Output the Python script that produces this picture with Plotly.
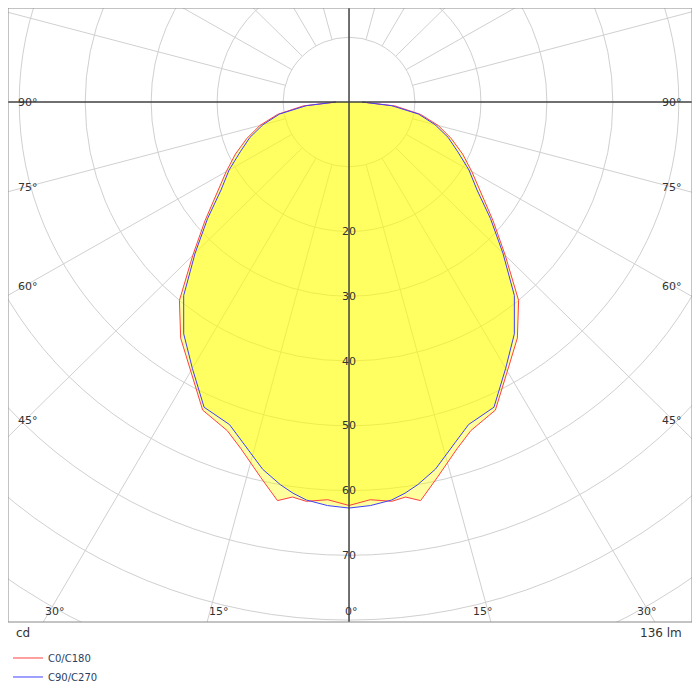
import numpy as np
import plotly.graph_objects as go

# intensity (cd) vs gamma angle, 0 = straight down, 90 = horizontal
angles = [0, 3, 6, 8, 10, 13, 17, 20, 25, 30, 35, 40, 45, 50, 55, 60, 65, 70, 75, 80, 85, 90]
c0_c180 = [62.3, 61.5, 62.0, 61.6, 62.5, 59.5, 56.0, 54.0, 52.5, 48.0, 44.5, 40.0, 33.5, 28.5,
           24.5, 21.5, 19.0, 16.5, 14.0, 11.0, 7.0, 2.0]
c90_c270 = [62.7, 62.4, 61.8, 61.0, 60.0, 58.2, 55.0, 53.0, 52.0, 47.5, 43.7, 39.0, 33.0, 28.0,
            23.7, 21.0, 18.2, 16.0, 13.5, 10.7, 6.5, 2.0]
ring_labels = [20, 30, 40, 50, 60, 70]
flux_label = "136 lm"


def to_xy(ang, val):
    a = np.radians(np.concatenate([-np.array(ang[::-1]), np.array(ang[1:])]))
    r = np.concatenate([np.array(val[::-1]), np.array(val[1:])])
    return r * np.sin(a), -r * np.cos(a)


s = 6.75  # px per cd in the reference
xr = [-349 / s, 351 / s]
yr = [-542 / s, 98 / s]

fig = go.Figure()

grid = "#d0d0d0"
for r in range(10, 110, 10):
    fig.add_shape(type="circle", x0=-r, x1=r, y0=-r, y1=r, line=dict(color=grid, width=1), layer="below")
for deg in range(0, 360, 15):
    if deg % 90 == 0:
        continue
    t = np.radians(deg)
    fig.add_shape(type="line", x0=10 * np.sin(t), y0=-10 * np.cos(t), x1=200 * np.sin(t), y1=-200 * np.cos(t),
                  line=dict(color=grid, width=1), layer="below")
fig.add_shape(type="line", x0=0, x1=0, y0=-200, y1=200, line=dict(color="#404040", width=1.5))
fig.add_shape(type="line", x0=-200, x1=200, y0=0, y1=0, line=dict(color="#404040", width=1.5))

for name, vals, col in [("C0/C180", c0_c180, "#ff4040"), ("C90/C270", c90_c270, "#4040ff")]:
    x, y = to_xy(angles, vals)
    fig.add_trace(go.Scatter(x=x, y=y, mode="none", fill="toself", showlegend=False,
                             fillcolor="rgba(255,255,0,0.38)", hoverinfo="skip"))
for name, vals, col in [("C0/C180", c0_c180, "#ff4040"), ("C90/C270", c90_c270, "#4040ff")]:
    x, y = to_xy(angles, vals)
    fig.add_trace(go.Scatter(x=x, y=y, mode="lines", name=name, line=dict(color=col, width=1)))

for v in ring_labels:
    fig.add_annotation(x=0, y=-v, text=str(v), showarrow=False, font=dict(size=11, color="#333"))

# angle labels along the frame
side = [(90, 98), (75, 187), (60, 290), (45, 430)]
for deg, py in side:
    yv = (98 - py) / s
    fig.add_annotation(x=xr[0], y=yv, text=f"{deg}°", showarrow=False, xanchor="left", xshift=8,
                       font=dict(size=11, color="#333"))
    fig.add_annotation(x=xr[1], y=yv, text=f"{deg}°", showarrow=False, xanchor="right", xshift=-8,
                       font=dict(size=11, color="#333"))
for deg in [0, 15, 30]:
    dx = 542 * np.tan(np.radians(deg)) / s
    for sx in ([1] if deg == 0 else [-1, 1]):
        fig.add_annotation(x=sx * dx, y=yr[0], text=f"{deg}°", showarrow=False, yanchor="bottom", yshift=2,
                           xshift=(0 if deg == 0 else 10 * -sx) + 2,
                           font=dict(size=11, color="#333"))

fig.add_annotation(x=0, y=0, xref="paper", yref="paper", text="cd", showarrow=False,
                   xanchor="left", yanchor="top", xshift=6, yshift=-2, font=dict(size=12, color="#333"))
fig.add_annotation(x=1, y=0, xref="paper", yref="paper", text=flux_label, showarrow=False,
                   xanchor="right", yanchor="top", xshift=-8, yshift=-2, font=dict(size=12, color="#333"))

fig.update_xaxes(range=xr, visible=False, fixedrange=True)
fig.update_yaxes(range=yr, visible=False, fixedrange=True)
fig.add_shape(type="rect", xref="paper", yref="paper", x0=0, x1=1, y0=0, y1=1,
              line=dict(color="#888", width=1))
fig.update_layout(width=684, height=684, margin=dict(l=0, r=0, t=0, b=58),
                  plot_bgcolor="white", paper_bgcolor="white",
                  font=dict(family="DejaVu Sans"),
                  legend=dict(x=0, y=-0.035, xanchor="left", yanchor="top", font=dict(size=10),
                              tracegroupgap=0, itemwidth=30, bgcolor="rgba(0,0,0,0)"))
fig.write_html("out.html")
